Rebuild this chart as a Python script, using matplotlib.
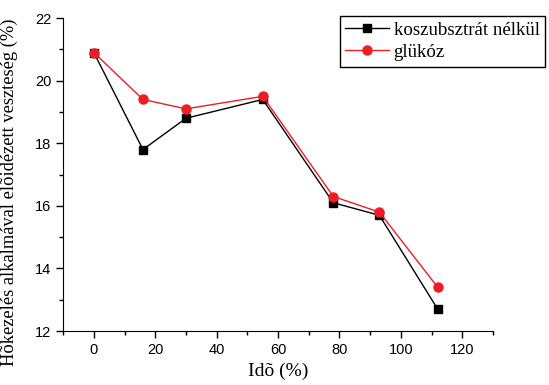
import matplotlib.pyplot as plt
from matplotlib.ticker import MultipleLocator

# Data
ido = [0, 16, 30, 55, 78, 93, 112]
koszubsztrat_nelkul = [20.9, 17.8, 18.8, 19.4, 16.1, 15.7, 12.7]
glukoz = [20.9, 19.4, 19.1, 19.5, 16.3, 15.8, 13.4]

serif = 'Liberation Serif'
sans = 'Liberation Sans'

fig = plt.figure(figsize=(5.49, 3.85), dpi=100)
ax = fig.add_axes([0.115, 0.140, 0.783, 0.813])

ax.plot(ido, koszubsztrat_nelkul, color='black', lw=1, marker='s', ms=6,
        label='koszubsztrát nélkül')
ax.plot(ido, glukoz, color='#ee1c25', lw=1, marker='o', ms=6.5,
        label='glükóz')

ax.set_xlim(-10, 130)
ax.set_ylim(12, 22)
ax.xaxis.set_major_locator(MultipleLocator(20))
ax.xaxis.set_minor_locator(MultipleLocator(10))
ax.yaxis.set_major_locator(MultipleLocator(2))
ax.yaxis.set_minor_locator(MultipleLocator(1))
ax.tick_params(which='major', direction='out', length=5, width=1, labelsize=10.5)
ax.tick_params(which='minor', direction='out', length=3, width=1)
for lab in ax.get_xticklabels() + ax.get_yticklabels():
    lab.set_family(sans)

ax.spines['top'].set_visible(False)
ax.spines['right'].set_visible(False)

ax.set_xlabel('Idõ (%)', family=serif, fontsize=14, labelpad=4)
ax.set_ylabel('Hõkezelés alkalmával elõidézett veszteség (%)', family=serif,
              fontsize=13.3, labelpad=2)
ax.yaxis.set_label_coords(-0.105, 0.445)

leg = ax.legend(loc='upper left', bbox_to_anchor=(0.619, 0.958),
                bbox_transform=fig.transFigure, borderaxespad=0,
                fancybox=False, edgecolor='black', framealpha=1,
                prop={'family': serif, 'size': 13.6}, handlelength=2.3,
                handletextpad=0.25, borderpad=0.3, labelspacing=0.25)
leg.get_frame().set_linewidth(1)

fig.savefig('out.png', dpi=100)
